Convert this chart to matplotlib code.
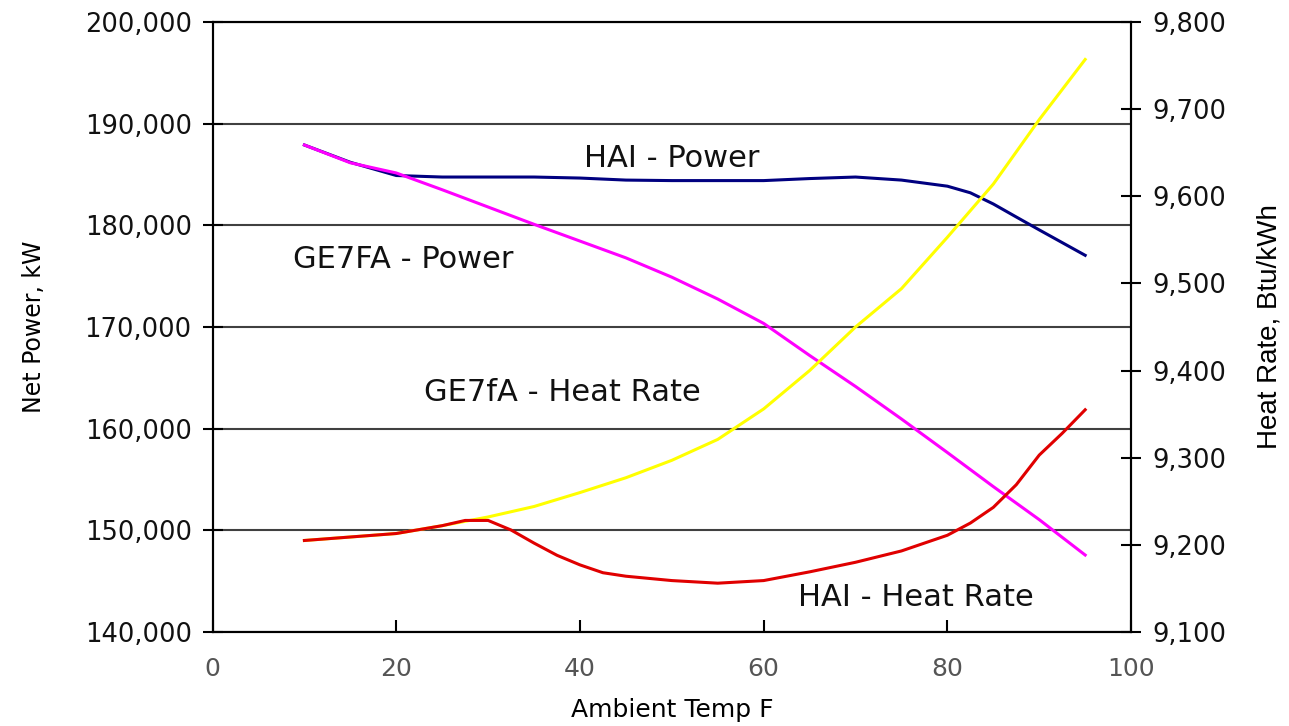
import numpy as np
from matplotlib import pyplot as plt

# ambient temperature, F
temp = [10, 15, 20, 25, 30, 35, 40, 45, 50, 55, 60, 65, 70, 75, 80, 85, 90, 95]

# net power, kW (left axis)
ge7fa_power = [187900, 186150, 185150, 183500, 181800, 180100, 178450, 176800, 174900,
               172750, 170350, 167200, 164150, 160950, 157650, 154300, 151050, 147570]
temp_hai_power = [10, 15, 20, 25, 30, 35, 40, 45, 50, 55, 60, 65, 70, 75, 80,
                  82.5, 85, 87.5, 90, 95]
hai_power = [187900, 186200, 184900, 184750, 184750, 184750, 184650, 184450, 184400,
             184400, 184400, 184600, 184750, 184450, 183850, 183200, 182100, 180820,
             179550, 177050]

# heat rate, Btu/kWh (right axis)
ge7fa_hr = [9205, 9209, 9213, 9222, 9232, 9244, 9260, 9277, 9297,
            9321, 9356, 9400, 9450, 9494, 9553, 9614, 9688, 9757]
temp_hai_hr = [10, 15, 20, 25, 27.5, 30, 32.5, 35, 37.5, 40, 42.5, 45, 50, 55,
               60, 65, 70, 75, 80, 82.5, 85, 87.5, 90, 92.5, 95]
hai_hr = [9205, 9209, 9213, 9222, 9228, 9228, 9217, 9202, 9188, 9177, 9168, 9164,
          9159, 9156, 9159, 9169, 9180, 9193, 9211, 9225, 9243, 9269, 9303, 9328, 9355]

power_ticks = [140000, 150000, 160000, 170000, 180000, 190000, 200000]
hr_ticks = [9100, 9200, 9300, 9400, 9500, 9600, 9700, 9800]
temp_ticks = [0, 20, 40, 60, 80, 100]

plt.rcParams['font.family'] = ['DejaVu Sans']

fig = plt.figure(figsize=(12.89, 7.26), dpi=100)
ax = fig.add_axes([0.1649, 0.1295, 0.8775 - 0.1649, 0.9697 - 0.1295])
ax2 = ax.twinx()

ax.plot(temp_hai_power, hai_power, color='#000080', lw=2.2, zorder=3)
ax.plot(temp, ge7fa_power, color='#ff00ff', lw=2.2, zorder=4)
ax2.plot(temp, ge7fa_hr, color='#ffff00', lw=2.2, zorder=3)
ax2.plot(temp_hai_hr, hai_hr, color='#e00000', lw=2.2, zorder=4)

ax.set_xlim(0, 100)
ax.set_ylim(140000, 200000)
ax2.set_ylim(9100, 9800)
ax.set_xticks(temp_ticks)
ax.set_yticks(power_ticks)
ax2.set_yticks(hr_ticks)
ax.set_yticklabels([f"{v:,}" for v in power_ticks])
ax2.set_yticklabels([f"{v:,}" for v in hr_ticks])

ax.grid(axis='y', color='#404040', lw=1.5)
ax.set_axisbelow(True)
for a in (ax, ax2):
    for s in a.spines.values():
        s.set_color('black')
        s.set_linewidth(1.5)

ax.tick_params(axis='y', direction='inout', length=14, width=1.5, labelsize=18.5,
               pad=8, labelcolor='#111111')
ax2.tick_params(axis='y', direction='inout', length=14, width=1.5, labelsize=18.5,
                pad=8, labelcolor='#111111')
ax.tick_params(axis='x', direction='in', length=9, width=1.5, labelsize=18,
               pad=18, labelcolor='#555555')

ax.set_ylabel("Net Power, kW", fontsize=17, labelpad=28)
ax2.set_ylabel("Heat Rate, Btu/kWh", fontsize=20, family=['Liberation Sans', 'DejaVu Sans'],
               labelpad=22)
ax.set_xlabel("Ambient Temp F", fontsize=18, labelpad=12)

lbl = dict(fontsize=22, color='#111111', ha='left', va='center', zorder=6)
ax.text(40.4, 186600, "HAI - Power", **lbl)
ax.text(8.8, 176600, "GE7FA - Power", **lbl)
ax.text(23.0, 163600, "GE7fA - Heat Rate", **lbl)
ax.text(63.7, 143350, "HAI - Heat Rate", **lbl)

fig.savefig("out.png", dpi=100)
